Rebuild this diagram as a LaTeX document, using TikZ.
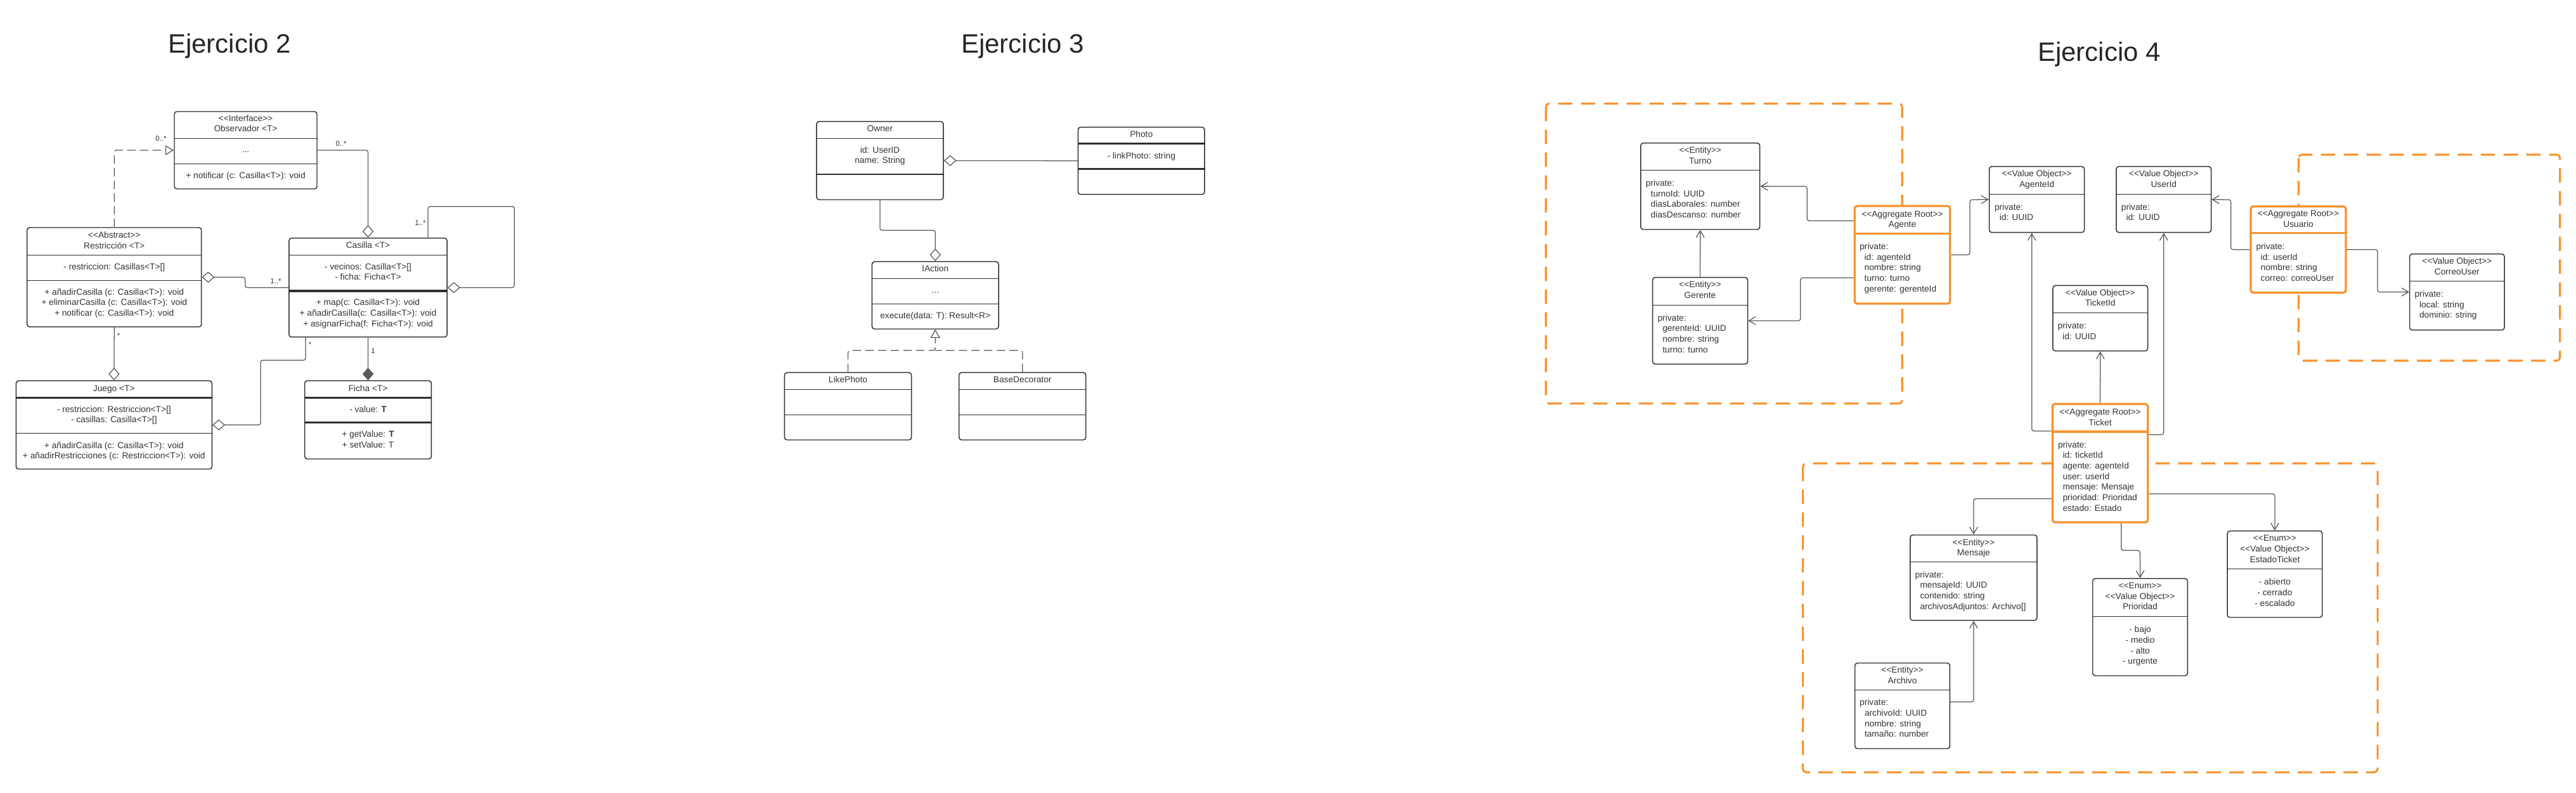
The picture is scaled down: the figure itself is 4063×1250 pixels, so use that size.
\documentclass[tikz,border=0pt]{standalone}
\usepackage{fontspec}
\setmainfont{Liberation Sans}[Ligatures=TeXOff]
\usetikzlibrary{arrows.meta,fit}
\definecolor{ink}{HTML}{2B2E33}
\definecolor{lin}{HTML}{5A5A5A}
\definecolor{org}{HTML}{F7932F}
\definecolor{txtc}{HTML}{333333}
\tikzset{
 box/.style={draw=ink, line width=1.1pt, fill=white, rounded corners=3pt, inner sep=0pt},
 obox/.style={draw=org, line width=2.5pt, fill=white, rounded corners=3pt, inner sep=0pt},
 dv/.style={draw=ink, line width=1.1pt},
 tdv/.style={draw=ink, line width=2.3pt},
 odv/.style={draw=org, line width=2.5pt},
 txt/.style={inner sep=0pt, text=txtc, font=\fontsize{10.3}{12.5}\selectfont},
 conn/.style={draw=lin, line width=0.95pt, rounded corners=2.5pt},
 realiz/.style={conn, dash pattern=on 10pt off 5pt},
 tri/.style={-{Triangle[open, length=10pt, width=11.5pt, fill=white]}},
 aggend/.style={-{Diamond[open, length=15pt, width=13pt, fill=white]}},
 aggstart/.style={{Diamond[open, length=15pt, width=13pt, fill=white]}-},
 compend/.style={-{Diamond[length=15pt, width=13pt, fill=lin]}},
 arr/.style={conn, -{Straight Barb[length=8pt, width=9.5pt]}},
 grp/.style={draw=org, line width=2.3pt, dash pattern=on 17pt off 10pt, rounded corners=4pt},
 mult/.style={inner sep=0pt, text=txtc, font=\fontsize{8.5}{10}\selectfont},
 ttl/.style={inner sep=0pt, text=black!85, font=\fontsize{31.4}{36}\selectfont},
}
% rows: name prefix, x, y of first row centre, anchor, list
\newcommand\rws[5]{%
  \foreach \rowtxt [count=\ri from 0] in {#5}{%
    \node[txt, anchor=#4] (#1\ri) at (#2,{#3+4.5+\ri*16.67}) {\rowtxt};}}
\newcommand\hdv[3]{\draw[#1] (#2.west |- 0,#3) -- (#2.east |- 0,#3);}
\begin{document}
\begin{tikzpicture}[x=0.75pt, y=-0.75pt]
\useasboundingbox (0,0) rectangle (4063,1250);
\fill[white] (0,0) rectangle (4063,1250);

% titles
\node[ttl, anchor=base] (t2) at (362,83) {Ejercicio 2};
\node[ttl, anchor=base] (t3) at (1613,83) {Ejercicio 3};
\node[ttl, anchor=base] (t4) at (3311,96) {Ejercicio 4};

% groups (Ej 4)
\draw[grp] (2438.2,163.3) rectangle (3000.2,636.7);
\draw[grp] (3625.3,244) rectangle (4037.7,569);
\draw[grp] (2843.6,731) rectangle (3750,1218.3);

%%%%%%%% Ejercicio 2
\node[box, fit={(275,176) (500,298)}] (obs) {};
\hdv{dv}{obs}{218.3}\hdv{dv}{obs}{258.3}
\rws{obsh}{387.5}{186.7}{base}{<<Interface>>, Observador <T>}
\node[txt, anchor=base] (obsa) at (387.5,240) {...};
\rws{obsm}{387.5}{277}{base}{+ notificar (c: Casilla<T>): void}

\node[box, fit={(42.7,359) (317.7,515.7)}] (res) {};
\hdv{dv}{res}{402.3}\hdv{dv}{res}{442.3}
\rws{resh}{180.2}{371}{base}{<<Abstract>>, Restricción <T>}
\rws{resa}{180.2}{420.7}{base}{- restriccion: Casillas<T>[]}
\rws{resm}{180.2}{460.7}{base}{+ añadirCasilla (c: Casilla<T>): void, + eliminarCasilla (c: Casilla<T>): void, + notificar (c: Casilla<T>): void}

\node[box, fit={(455.8,375.7) (705.2,531.7)}] (cas) {};
\hdv{dv}{cas}{402.3}\hdv{tdv}{cas}{459}
\rws{cash}{580.5}{387.3}{base}{Casilla <T>}
\rws{casa}{580.5}{420.7}{base}{- vecinos: Casilla<T>[], - ficha: Ficha<T>}
\rws{casm}{580.5}{477.3}{base}{+ map(c: Casilla<T>): void, + añadirCasilla(c: Casilla<T>): void, + asignarFicha(f: Ficha<T>): void}

\node[box, fit={(25.3,600.7) (334.3,740)}] (jue) {};
\hdv{tdv}{jue}{627.3}\hdv{dv}{jue}{683.3}
\rws{jueh}{179.8}{613.3}{base}{Juego <T>}
\rws{juea}{179.8}{645.7}{base}{- restriccion: Restriccion<T>[], - casillas: Casilla<T>[]}
\rws{juem}{179.8}{702.7}{base}{+ añadirCasilla (c: Casilla<T>): void, + añadirRestricciones (c: Restriccion<T>): void}

\node[box, fit={(480.7,600.7) (680.4,724)}] (fic) {};
\hdv{tdv}{fic}{627.3}\hdv{tdv}{fic}{666.7}
\rws{fich}{580.5}{612.7}{base}{Ficha <T>}
\rws{fica}{580.5}{646}{base}{- value: \textbf{T}}
\rws{ficm}{580.5}{685}{base}{+ getValue: \textbf{T}, + setValue: T}

\draw[realiz, tri] (res.north) |- (obs.west);
\draw[conn, aggend] (obs.east) -| (cas.north);
\draw[conn, aggend] (cas.north -| 675.1,0) |- (811.3,325.7) |- (cas.east);
\draw[conn, aggstart] (res.east) -- (386.7,437.3) |- (cas.west);
\draw[conn, aggend] (res.south) -- (jue.north);
\draw[conn, aggend] (cas.south -| 482.1,0) |- (411,568.3) |- (jue.east);
\draw[conn, compend] (cas.south) -- (fic.north);

\node[mult] (m1) at (254,219) {0..*};
\node[mult] (m2) at (538,226.7) {0..*};
\node[mult] (m3) at (663,351.7) {1..*};
\node[mult] (m4) at (435,444) {1..*};
\node[mult] (m5) at (187,530) {*};
\node[mult] (m6) at (489,544) {*};
\node[mult] (m7) at (588.5,554) {1};

%%%%%%%% Ejercicio 3
\node[box, fit={(1287.9,191.7) (1487.9,315)}] (own) {};
\hdv{dv}{own}{218.3}\hdv{dv}{own}{275}
\rws{ownh}{1387.9}{203.3}{base}{Owner}
\rws{owna}{1387.9}{236.7}{base}{id: UserID, name: String}

\node[box, fit={(1700.4,200.7) (1899.9,306.7)}] (pho) {};
\hdv{tdv}{pho}{226.7}\hdv{tdv}{pho}{266.7}
\rws{phoh}{1800.2}{211.7}{base}{Photo}
\rws{phoa}{1800.2}{246}{base}{- linkPhoto: string}

\node[box, fit={(1375.4,412.7) (1575,519)}] (iac) {};
\hdv{dv}{iac}{439.3}\hdv{dv}{iac}{479.3}
\rws{iach}{1475.2}{424.3}{base}{IAction}
\node[txt, anchor=base] (iaca) at (1475.2,462) {...};
\rws{iacm}{1475.2}{498.3}{base}{execute(data: T): Result<R>}

\node[box, fit={(1237.3,587.7) (1437.7,694)}] (lik) {};
\hdv{dv}{lik}{614.3}\hdv{dv}{lik}{654.3}
\rws{likh}{1337.5}{599.3}{base}{LikePhoto}

\node[box, fit={(1512.7,587.7) (1712.7,694)}] (bas) {};
\hdv{dv}{bas}{614.3}\hdv{dv}{bas}{654.3}
\rws{bash}{1612.7}{599.3}{base}{BaseDecorator}

\draw[conn, aggstart] (own.east) -- (pho.west);
\draw[conn, aggend] (own.south) |- (iac.north |- 0,363.3) -- (iac.north);
\draw[realiz, tri] (lik.north) |- (iac.south |- 0,552.7) -- (iac.south);
\draw[realiz] (bas.north) |- (iac.south |- 0,552.7);

%%%%%%%% Ejercicio 4
\node[box, fit={(2587.8,225.7) (2775.6,362)}] (tur) {};
\hdv{dv}{tur}{268.3}
\rws{turh}{2681.7}{237.3}{base}{<<Entity>>, Turno}
\rws{turp}{2595.6}{289}{base west}{private:}
\rws{turi}{2603.4}{305.7}{base west}{turnoId: UUID, diasLaborales: number, diasDescanso: number}

\node[box, fit={(2606.5,437.7) (2756.5,574.3)}] (ger) {};
\hdv{dv}{ger}{481.7}
\rws{gerh}{2681.5}{449.3}{base}{<<Entity>>, Gerente}
\rws{gerp}{2614.3}{501.7}{base west}{private:}
\rws{geri}{2622}{518.3}{base west}{gerenteId: UUID, nombre: string, turno: turno}

\node[obox, fit={(2925.2,325) (3075.7,479)}] (age) {};
\hdv{odv}{age}{368.3}
\rws{ageh}{3000.4}{337.7}{base}{<<Aggregate Root>>, Agente}
\rws{agep}{2933}{389}{base west}{private:}
\rws{agei}{2940.4}{405.7}{base west}{id: agenteId, nombre: string, turno: turno, gerente: gerenteId}

\node[box, fit={(3137.5,262.7) (3287.5,366.7)}] (aid) {};
\hdv{dv}{aid}{306.7}
\rws{aidh}{3212.5}{274.3}{base}{<<Value Object>>, AgenteId}
\rws{aidp}{3145.7}{326.7}{base west}{private:}
\rws{aidi}{3153.6}{343.3}{base west}{id: UUID}

\node[box, fit={(3337.9,262.7) (3487.5,366.7)}] (uid) {};
\hdv{dv}{uid}{306.7}
\rws{uidh}{3412.7}{274.3}{base}{<<Value Object>>, UserId}
\rws{uidp}{3345.6}{326.7}{base west}{private:}
\rws{uidi}{3353.2}{343.3}{base west}{id: UUID}

\node[box, fit={(3237.9,450.3) (3387.5,553.7)}] (tid) {};
\hdv{dv}{tid}{493.3}
\rws{tidh}{3312.7}{461.7}{base}{<<Value Object>>, TicketId}
\rws{tidp}{3245.4}{514}{base west}{private:}
\rws{tidi}{3252.9}{530.7}{base west}{id: UUID}

\node[obox, fit={(3550,325.7) (3700,461.7)}] (usu) {};
\hdv{odv}{usu}{367.7}
\rws{usuh}{3625}{337.3}{base}{<<Aggregate Root>>, Usuario}
\rws{usup}{3558.2}{389}{base west}{private:}
\rws{usui}{3565.4}{405.7}{base west}{id: userId, nombre: string, correo: correoUser}

\node[box, fit={(3800.7,400.7) (3950,520.7)}] (cor) {};
\hdv{dv}{cor}{443.3}
\rws{corh}{3875.3}{412}{base}{<<Value Object>>, CorreoUser}
\rws{corp}{3808.3}{464}{base west}{private:}
\rws{cori}{3815.7}{480.7}{base west}{local: string, dominio: string}

\node[obox, fit={(3237.3,637.3) (3387.7,824)}] (tic) {};
\hdv{odv}{tic}{681}
\rws{tich}{3312.5}{650}{base}{<<Aggregate Root>>, Ticket}
\rws{ticp}{3245.7}{701.7}{base west}{private:}
\rws{tici}{3253.3}{718.3}{base west}{id: ticketId, agente: agenteId, user: userId, mensaje: Mensaje, prioridad: Prioridad, estado: Estado}

\node[box, fit={(3012.9,844) (3212.9,978.7)}] (men) {};
\hdv{dv}{men}{886.7}
\rws{menh}{3112.9}{855.7}{base}{<<Entity>>, Mensaje}
\rws{menp}{3020.4}{906.7}{base west}{private:}
\rws{meni}{3028.2}{923.3}{base west}{mensajeId: UUID, contenido: string, archivosAdjuntos: Archivo[]}

\node[box, fit={(2925.7,1046) (3075.4,1181)}] (arc) {};
\hdv{dv}{arc}{1088.3}
\rws{arch}{3000.5}{1057.3}{base}{<<Entity>>, Archivo}
\rws{arcp}{2932.9}{1108.3}{base west}{private:}
\rws{arci}{2940.7}{1125}{base west}{archivoId: UUID, nombre: string, tamaño: number}

\node[box, fit={(3300.7,912.7) (3450.3,1066)}] (pri) {};
\hdv{dv}{pri}{972.3}
\rws{prih}{3375.5}{924}{base}{<<Enum>>, <<Value Object>>, Prioridad}
\rws{prib}{3375.5}{993.3}{base}{- bajo, - medio, - alto, - urgente}

\node[box, fit={(3513,837.7) (3662.7,974)}] (est) {};
\hdv{dv}{est}{897.3}
\rws{esth}{3587.9}{849.3}{base}{<<Enum>>, <<Value Object>>, EstadoTicket}
\rws{estb}{3587.9}{918.3}{base}{- abierto, - cerrado, - escalado}

\draw[arr] (ger.north) -- (tur.south);
\draw[arr] (age.west |- 0,348.3) -| (2850.2,294) -- (tur.east);
\draw[arr] (age.west |- 0,438.3) -| (2839.8,506) -- (ger.east);
\draw[arr] (age.east) -| (3107,315) -- (aid.west);
\draw[arr] (usu.west) -| (3518.6,315) -- (uid.east);
\draw[arr] (usu.east) -| (3750,460.7) -- (cor.west);
\draw[arr] (tic.north) -- (tid.south);
\draw[arr] (tic.west |- 0,680) -| (aid.south -| 3204.6,0);
\draw[arr] (tic.east |- 0,685.7) -| (uid.south);
\draw[arr] (tic.west |- 0,786.7) -| (men.north);
\draw[arr] (tic.east |- 0,779) -| (est.north);
\draw[arr] (tic.south -| 3345.7,0) |- (3375.3,868.3) -- (pri.north);
\draw[arr] (arc.east |- 0,1107.3) -| (men.south);
\end{tikzpicture}
\end{document}
